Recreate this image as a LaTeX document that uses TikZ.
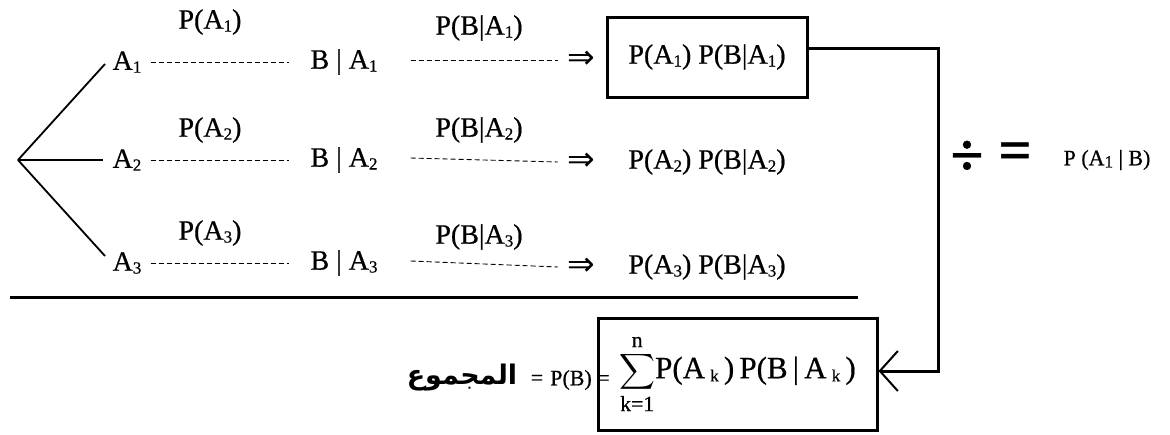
\documentclass[tikz,border=0pt]{standalone}
\usepackage{amsmath}
\usepackage{fontspec}
\setmainfont{Liberation Serif}[FakeBold=0.6]
\newfontfamily\arabicfont[Script=Arabic]{DejaVu Sans}
\newfontfamily\arrowfont{DejaVu Sans}
\TeXXeTstate=1
\usetikzlibrary{arrows.meta}
\newcommand{\sbs}[1]{\raisebox{-0.22ex}{\fontsize{17}{18}\selectfont #1}}
\begin{document}
\begin{tikzpicture}[x=1pt,y=-1pt,
  txt/.style={inner sep=1pt,font=\fontsize{28}{32}\selectfont},
  sumtxt/.style={inner sep=1pt,font=\fontsize{31}{34}\selectfont},
  small/.style={inner sep=1pt,font=\fontsize{22}{25}\selectfont},
  branch/.style={line width=1.8pt},
  dashline/.style={dash pattern=on 5pt off 3pt,line width=0.9pt},
  heavy/.style={line width=3pt},
  boxed/.style={draw,line width=3pt,inner sep=0pt}]
\useasboundingbox (0,0) rectangle (1170,434);
% tree
\coordinate (root) at (18,160);
\coordinate (e1) at (105,64);
\coordinate (e2) at (103,160);
\coordinate (e3) at (105,256);
\draw[branch] (root) -- (e1);
\draw[branch] (root) -- (e2);
\draw[branch] (root) -- (e3);
% rows
\foreach \i/\y/\py/\qy/\ly in {1/62/22/28/60, 2/160/130/130/162, 3/263/233/237/267}{
  \node[txt] (a\i) at (127,\y) {A\sbs{\i}};
  \node[txt] (pa\i) at (210,\py) {P(A\sbs{\i})};
  \node[txt] (ba\i) at (344,\y) {B | A\sbs{\i}};
  \node[txt] (pb\i) at (479,\qy) {P(B|A\sbs{\i})};
  \node[inner sep=1pt,font=\fontsize{33}{36}\arrowfont] (imp\i) at (581,\ly) {⇒};
  \draw[dashline] ([xshift=8pt]a\i.east) -- ([xshift=-20pt]ba\i.west);
  \draw[dashline] ([xshift=32pt,yshift=2pt]ba\i.east) -- ([xshift=-8pt]imp\i.west);
}
\node[txt,boxed,minimum width=200pt,minimum height=80pt] (box1) at (707,57) {P(A\sbs{1}) P(B|A\sbs{1})};
\node[txt] (prod2) at (707,162) {P(A\sbs{2}) P(B|A\sbs{2})};
\node[txt] (prod3) at (707,267) {P(A\sbs{3}) P(B|A\sbs{3})};
% rule
\coordinate (r1) at (10,297);
\coordinate (r2) at (858,297);
\draw[heavy] (r1) -- (r2);
% sum box
\node[sumtxt,boxed,minimum width=279pt,minimum height=112pt] (box2) at (737.5,374) {$\displaystyle\sum_{\text{k=1}}^{\text{n}}$P(A\,\sbs{k}\,)\,P(B\,|\,A\,\sbs{k}\,)};
% connector
\coordinate (turn) at (938,48);
\draw[heavy,-{Straight Barb[length=18pt,width=40pt,line width=2pt]}] ([yshift=9pt]box1.east) -- (turn) |- ([yshift=3pt]box2.east);
% division
\node[inner sep=0pt,font=\fontsize{60}{64}\bfseries\selectfont] (div) at (967,158) {÷};
\node[inner sep=0pt,font=\fontsize{58}{62}\bfseries\selectfont] (eq) at (1015,156) {=};
\node[small] (pab) at (1107,160) {P (A\sbs{1} | B)};
% bottom left
\node[inner sep=1pt,font=\fontsize{27}{30}\bfseries\selectfont] (ar) at (462,378) {\arabicfont\beginR المجموع\endR};
\node[small] (eqa) at (537,380) {=};
\node[small] (pbb) at (580,380) {P(B) =};
\end{tikzpicture}
\end{document}
